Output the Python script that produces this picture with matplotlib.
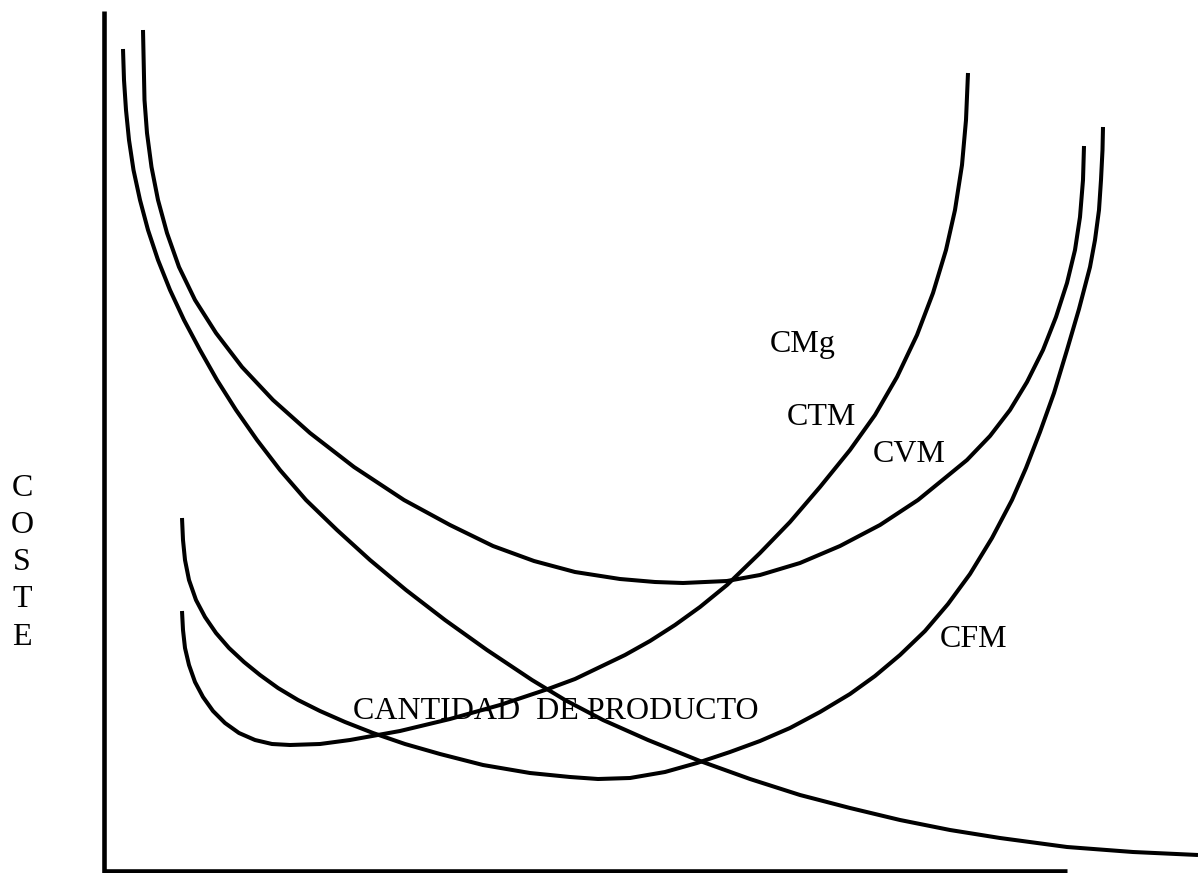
import numpy as np
import matplotlib.pyplot as plt

# canvas in pixel units (y grows downwards, like the scanned sketch)
W, H = 1198, 873

# axes of the sketch
axis_x = [104, 104, 1067]
axis_y = [11, 871, 871]

# CFM: long decreasing curve
cfm_x = [123, 124, 126, 129, 133.5, 140, 148, 158, 170, 184, 200, 217, 236, 257,
         280, 306, 337, 370, 406, 445, 487, 532, 565, 603, 648, 700, 750, 800,
         850, 900, 950, 1000, 1067, 1133, 1198]
cfm_y = [49, 80, 110, 140, 170, 200, 230, 260, 290, 320, 350, 380, 410, 440,
         470, 500, 530, 560, 590, 620, 650, 680, 700, 720, 740, 761, 779, 795,
         808, 820, 830, 838, 847, 852, 855]

# CTM: upper U curve
ctm_x = [143, 144.5, 147, 151.5, 158, 167, 179, 195, 216, 242, 273, 310, 354,
         404, 450, 493, 534, 575, 620, 655, 683, 727, 760, 800, 840, 880, 918,
         945, 967, 990, 1010, 1027, 1043, 1056, 1067, 1075, 1080, 1083, 1084]
ctm_y = [30, 100, 133, 167, 200, 233, 267, 300, 333, 367, 400, 433, 467,
         500, 525, 546, 561, 572, 579, 582, 583, 581, 575, 563, 546, 525, 500,
         478, 460, 436, 410, 382, 350, 317, 283, 250, 217, 180, 146]

# CMg: rising marginal cost curve
cmg_x = [182, 183, 185, 189, 195, 203, 213, 225, 239, 255, 272, 290, 320, 350,
         400, 450, 500, 548, 575, 600, 625, 650, 675, 700, 727, 760, 790, 820,
         850, 875, 897, 917, 933, 946, 955, 962, 966, 968]
cmg_y = [611, 630, 648, 665, 682, 697, 711, 723, 733, 740, 744, 745, 744, 740,
         731, 719, 705, 689, 679, 667, 655, 641, 625, 607, 585, 553, 522, 487,
         450, 415, 377, 335, 293, 250, 210, 165, 120, 73]

# CVM: lower U curve
cvm_x = [182, 183, 185, 189, 196, 205, 216, 229, 244, 260, 278, 298, 320, 345,
         373, 405, 440, 483, 530, 570, 598, 630, 665, 697, 730, 760, 790, 820,
         850, 875, 900, 925, 948, 970, 992, 1012, 1026, 1040, 1054, 1067, 1079,
         1090, 1095, 1099, 1101, 1102.5, 1103]
cvm_y = [518, 540, 560, 580, 600, 617, 633, 648, 662, 675, 688, 700, 711, 722,
         733, 744, 754, 765, 773, 777, 779, 778, 772, 763, 752, 741, 728, 712,
         694, 676, 655, 631, 604, 574, 538, 500, 468, 432, 393, 350, 309,
         267, 240, 210, 180, 150, 127]

labels = ['CMg', 'CTM', 'CVM', 'CFM', 'CANTIDAD  DE PRODUCTO']
label_x = [770, 787, 873, 940, 353]
label_y = [352, 425, 462, 647, 719]

ylabel_letters = ['C', 'O', 'S', 'T', 'E']

plt.rcParams['font.family'] = ['Liberation Serif', 'DejaVu Serif']

fig = plt.figure(figsize=(W / 100, H / 100), dpi=100)
ax = fig.add_axes([0, 0, 1, 1])
ax.set_xlim(0, W)
ax.set_ylim(H, 0)
ax.axis('off')

ax.plot(axis_x, axis_y, color='black', lw=3.3, solid_joinstyle='miter',
        solid_capstyle='butt')

for xs, ys in [(cfm_x, cfm_y), (ctm_x, ctm_y), (cmg_x, cmg_y), (cvm_x, cvm_y)]:
    ax.plot(xs, ys, color='black', lw=2.9, solid_joinstyle='round',
            solid_capstyle='butt')

for txt, x, y in zip(labels, label_x, label_y):
    ax.text(x, y, txt, fontsize=23, ha='left', va='baseline', color='black')

# vertical axis title, one letter per line
for i, ch in enumerate(ylabel_letters):
    ax.text(22, 488 + i * 37.3, ch, fontsize=23, ha='center', va='center',
            color='black')

fig.savefig('out.png', dpi=100)
